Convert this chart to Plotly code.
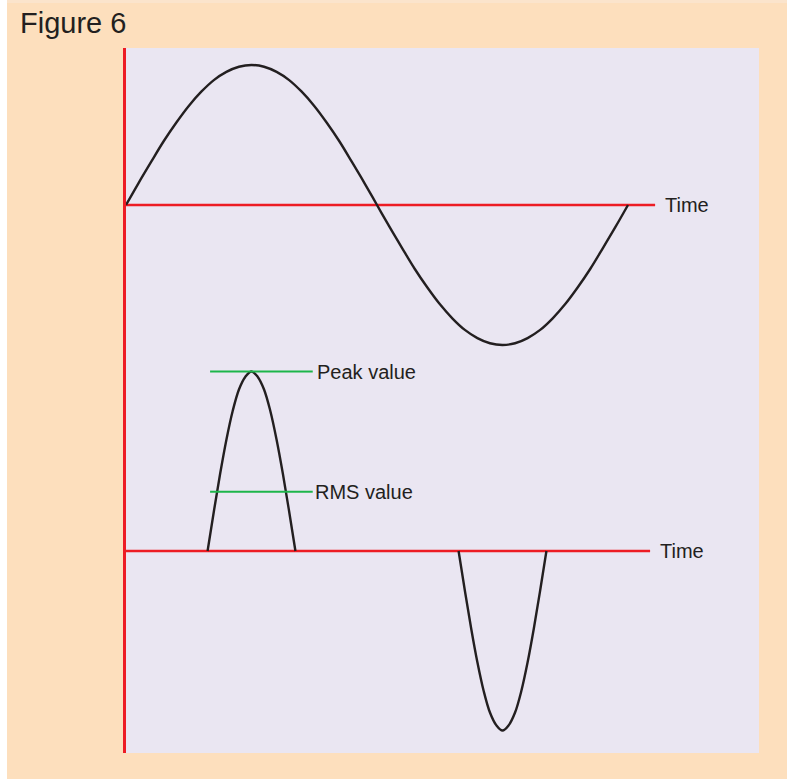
import plotly.graph_objects as go

# ---------------- data ----------------
# time in ms, one 50 Hz period of the supply voltage
volt_t = [0.0, 0.5, 1.0, 1.5, 2.0, 2.5, 3.0, 3.5, 4.0, 4.5, 5.0, 5.5, 6.0, 6.5, 7.0, 7.5,
          8.0, 8.5, 9.0, 9.5, 10.0, 10.5, 11.0, 11.5, 12.0, 12.5, 13.0, 13.5, 14.0, 14.5,
          15.0, 15.5, 16.0, 16.5, 17.0, 17.5, 18.0, 18.5, 19.0, 19.5, 20.0]
volt_v = [0, 51, 100, 148, 191, 230, 263, 290, 309, 321, 325, 321, 309, 290, 263, 230,
          191, 148, 100, 51, 0, -51, -100, -148, -191, -230, -263, -290, -309, -321,
          -325, -321, -309, -290, -263, -230, -191, -148, -100, -51, 0]

# current pulses (A)
pulse1_t = [3.25, 3.5, 3.75, 4.0, 4.25, 4.5, 4.75, 5.0, 5.25, 5.5, 5.75, 6.0, 6.25, 6.5, 6.75]
pulse1_i = [0, 2.2, 4.3, 6.2, 7.8, 9.0, 9.7, 10.0, 9.7, 9.0, 7.8, 6.2, 4.3, 2.2, 0]
pulse2_t = [13.25, 13.5, 13.75, 14.0, 14.25, 14.5, 14.75, 15.0, 15.25, 15.5, 15.75, 16.0,
            16.25, 16.5, 16.75]
pulse2_i = [0, -2.2, -4.3, -6.2, -7.8, -9.0, -9.7, -10.0, -9.7, -9.0, -7.8, -6.2, -4.3,
            -2.2, 0]

peak_value = 10.0
rms_value = 3.3
marker_t = [3.35, 7.44]          # extent of the green marker lines

volt_axis_t = [0.0, 21.08]       # red time axis for voltage
curr_axis_t = [0.0, 20.88]       # red time axis for current

# ---------------- style ----------------
PEACH = "#FDDFBD"
STRIP = "#FBE4CC"
LAVENDER = "#EAE6F2"
RED = "#ED1C24"
INK = "#231F20"
GREEN = "#1DB54A"
FONT = "Liberation Sans, Arial, sans-serif"

fig = go.Figure()

# red time axes
fig.add_trace(go.Scatter(x=volt_axis_t, y=[0, 0], mode="lines",
                         line=dict(color=RED, width=2.6), yaxis="y", hoverinfo="skip"))
fig.add_trace(go.Scatter(x=curr_axis_t, y=[0, 0], mode="lines",
                         line=dict(color=RED, width=2.6), yaxis="y2", hoverinfo="skip"))

# voltage
fig.add_trace(go.Scatter(x=volt_t, y=volt_v, mode="lines", line_shape="spline",
                         line=dict(color=INK, width=2.4), yaxis="y", name="Voltage"))

# current
cur_t = pulse1_t + [None] + pulse2_t
cur_i = pulse1_i + [None] + pulse2_i
fig.add_trace(go.Scatter(x=cur_t, y=cur_i, mode="lines", line_shape="spline",
                         line=dict(color=INK, width=2.4), yaxis="y2", name="Current",
                         connectgaps=False))

# green markers
fig.add_trace(go.Scatter(x=marker_t, y=[peak_value, peak_value], mode="lines",
                         line=dict(color=GREEN, width=2.2), yaxis="y2"))
fig.add_trace(go.Scatter(x=marker_t, y=[rms_value, rms_value], mode="lines",
                         line=dict(color=GREEN, width=2.2), yaxis="y2"))

W, H = 787, 779
ML, MR, MT, MB = 126, 28, 48, 26
pw = W - ML - MR
ph = H - MT - MB

px_per_ms = 25.1
t_max = pw / px_per_ms

v_px = 140 / 325.0
v_zero = 205
v_range = [-(MT + ph - v_zero) / v_px, (v_zero - MT) / v_px]

i_px = 17.95
i_zero = 551
i_range = [-(MT + ph - i_zero) / i_px, (i_zero - MT) / i_px]

def tfont(size=20):
    return dict(family=FONT, size=size, color=INK)

ann = []
ann.append(dict(x=21.40, y=0, xref="x", yref="y", text="Time", showarrow=False,
                xanchor="left", yanchor="middle", font=tfont()))
ann.append(dict(x=21.20, y=0, xref="x", yref="y2", text="Time", showarrow=False,
                xanchor="left", yanchor="middle", font=tfont()))
ann.append(dict(x=-0.1, y=58, xref="x", yref="y", text="Voltage", showarrow=False,
                xanchor="right", yanchor="middle", font=tfont()))
ann.append(dict(x=-0.12, y=1.0, xref="x", yref="y2", text="Current", showarrow=False,
                xanchor="right", yanchor="middle", font=tfont()))
ann.append(dict(x=marker_t[1] + 0.07, y=peak_value, xref="x", yref="y2", text="Peak value",
                showarrow=False, xanchor="left", yanchor="middle", font=tfont()))
ann.append(dict(x=marker_t[1] + 0.0, y=rms_value, xref="x", yref="y2", text="RMS value",
                showarrow=False, xanchor="left", yanchor="middle", font=tfont()))
ann.append(dict(x=(18 - ML) / pw, y=(H - MB - 23) / ph, xref="paper", yref="paper",
                text="Figure 6", showarrow=False, xanchor="left", yanchor="middle",
                font=tfont(29)))

shapes = [
    dict(type="rect", xref="paper", yref="paper",
         x0=-ML / pw - 0.01, x1=(7 - ML) / pw, y0=-MB / ph - 0.01, y1=(H - MB) / ph + 0.01,
         fillcolor="white", line=dict(width=0), layer="below"),
    dict(type="rect", xref="paper", yref="paper",
         x0=(7 - ML) / pw, x1=(W - ML) / pw + 0.01, y0=(H - MB - 3) / ph, y1=(H - MB) / ph + 0.01,
         fillcolor=STRIP, line=dict(width=0), layer="below"),
]

fig.update_layout(
    width=W, height=H,
    margin=dict(l=ML, r=MR, t=MT, b=MB, autoexpand=False),
    paper_bgcolor=PEACH, plot_bgcolor=LAVENDER,
    showlegend=False,
    xaxis=dict(range=[0, t_max], visible=True, showgrid=False, zeroline=False,
               showticklabels=False, ticks="", showline=False, fixedrange=True),
    yaxis=dict(range=v_range, showgrid=False, zeroline=False, showticklabels=False,
               ticks="", showline=True, linecolor=RED, linewidth=2.6, fixedrange=True),
    yaxis2=dict(range=i_range, overlaying="y", showgrid=False, zeroline=False,
                showticklabels=False, ticks="", showline=False, fixedrange=True),
    annotations=ann,
    shapes=shapes,
)

fig.write_html(
    "out.html",
    config={"displayModeBar": False},
    post_script="document.body.style.margin='0';document.body.style.overflow='hidden';",
)
